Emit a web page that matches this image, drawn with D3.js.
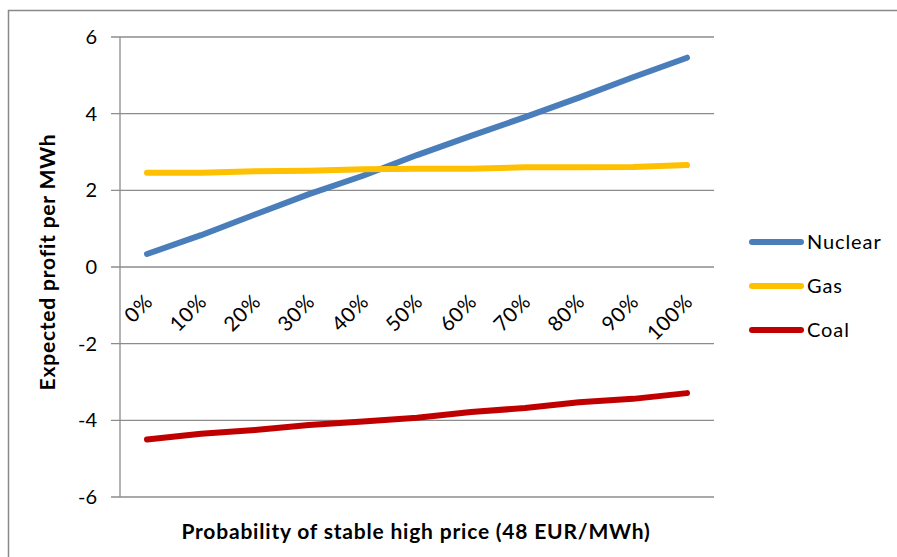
<!DOCTYPE html>
<html>
<head>
<meta charset="utf-8">
<script src="https://cdn.jsdelivr.net/npm/d3@7"></script>
<style>
  html, body { margin: 0; padding: 0; background: #fff; }
  svg { display: block; font-family: Lato, "Open Sans", sans-serif; }
</style>
</head>
<body>
<svg id="chart" width="897" height="557"></svg>
<script>
const categories = ["0%", "10%", "20%", "30%", "40%", "50%", "60%", "70%", "80%", "90%", "100%"];
const nuclear = [0.34, 0.83, 1.37, 1.90, 2.38, 2.92, 3.42, 3.91, 4.42, 4.95, 5.46];
const gas     = [2.46, 2.46, 2.50, 2.51, 2.55, 2.56, 2.56, 2.60, 2.60, 2.61, 2.66];
const coal    = [-4.50, -4.35, -4.25, -4.12, -4.03, -3.93, -3.78, -3.68, -3.53, -3.44, -3.29];
const yTicks  = [-6, -4, -2, 0, 2, 4, 6];
const seriesNames  = ["Nuclear", "Gas", "Coal"];
const seriesColors = ["#4a7ebb", "#ffc000", "#c00000"];
const seriesData   = [nuclear, gas, coal];

const svg = d3.select("#chart");
const plot = { left: 120, right: 714, top: 37, bottom: 497 };

// outer border (top and left visible)
svg.append("rect")
  .attr("x", 8.5).attr("y", 10.5).attr("width", 1000).attr("height", 1000)
  .attr("fill", "none").attr("stroke", "#898989").attr("stroke-width", 1.5);

const x = d3.scaleBand().domain(categories).range([plot.left, plot.right]);
const y = d3.scaleLinear().domain([-6, 6]).range([plot.bottom, plot.top]);

// gridlines
svg.append("g").selectAll("line").data(yTicks).join("line")
  .attr("x1", plot.left - 9).attr("x2", plot.right)
  .attr("y1", d => y(d)).attr("y2", d => y(d))
  .attr("stroke", "#8c8c8c").attr("stroke-width", 1.3);

// y axis line
svg.append("line")
  .attr("x1", plot.left).attr("x2", plot.left)
  .attr("y1", plot.top).attr("y2", plot.bottom)
  .attr("stroke", "#8c8c8c").attr("stroke-width", 1.3);

// y tick labels
svg.append("g").selectAll("text").data(yTicks).join("text")
  .attr("x", 97).attr("y", d => y(d))
  .attr("dy", "0.35em")
  .attr("text-anchor", "end")
  .attr("font-size", 20)
  .attr("fill", "#000")
  .text(d => d);

// x tick labels (rotated), placed below the zero line
svg.append("g").selectAll("text").data(categories).join("text")
  .attr("transform", d => `translate(${x(d) + x.bandwidth() / 2 + 7},${y(0) + 36}) rotate(-45)`)
  .attr("text-anchor", "end")
  .attr("font-size", 20.5)
  .attr("letter-spacing", 0.6)
  .attr("fill", "#000")
  .text(d => d);

// lines
const line = d3.line()
  .x((d, i) => x(categories[i]) + x.bandwidth() / 2)
  .y(d => y(d));

svg.append("g").selectAll("path").data(seriesData).join("path")
  .attr("d", d => line(d))
  .attr("fill", "none")
  .attr("stroke", (d, i) => seriesColors[i])
  .attr("stroke-width", 6)
  .attr("stroke-linecap", "round")
  .attr("stroke-linejoin", "round");

// legend
const legend = svg.append("g").selectAll("g").data(seriesNames).join("g")
  .attr("transform", (d, i) => `translate(0,${242 + i * 44})`);
legend.append("line")
  .attr("x1", 752).attr("x2", 801).attr("y1", 0).attr("y2", 0)
  .attr("stroke", (d, i) => seriesColors[i])
  .attr("stroke-width", 6)
  .attr("stroke-linecap", "round");
legend.append("text")
  .attr("x", 807).attr("y", 0).attr("dy", "0.35em")
  .attr("font-size", 20)
  .attr("letter-spacing", 0.9)
  .attr("fill", "#000")
  .text(d => d);

// axis titles
svg.append("text")
  .attr("x", 416).attr("y", 532).attr("dy", "0.35em")
  .attr("text-anchor", "middle")
  .attr("font-size", 21).attr("font-weight", "bold")
  .attr("letter-spacing", 0.8)
  .text("Probability of stable high price (48 EUR/MWh)");

svg.append("text")
  .attr("transform", "translate(48,262) rotate(-90)")
  .attr("dy", "0.35em")
  .attr("text-anchor", "middle")
  .attr("font-size", 21).attr("font-weight", "bold")
  .attr("letter-spacing", 0.8)
  .text("Expected profit per MWh");
</script>
</body>
</html>
